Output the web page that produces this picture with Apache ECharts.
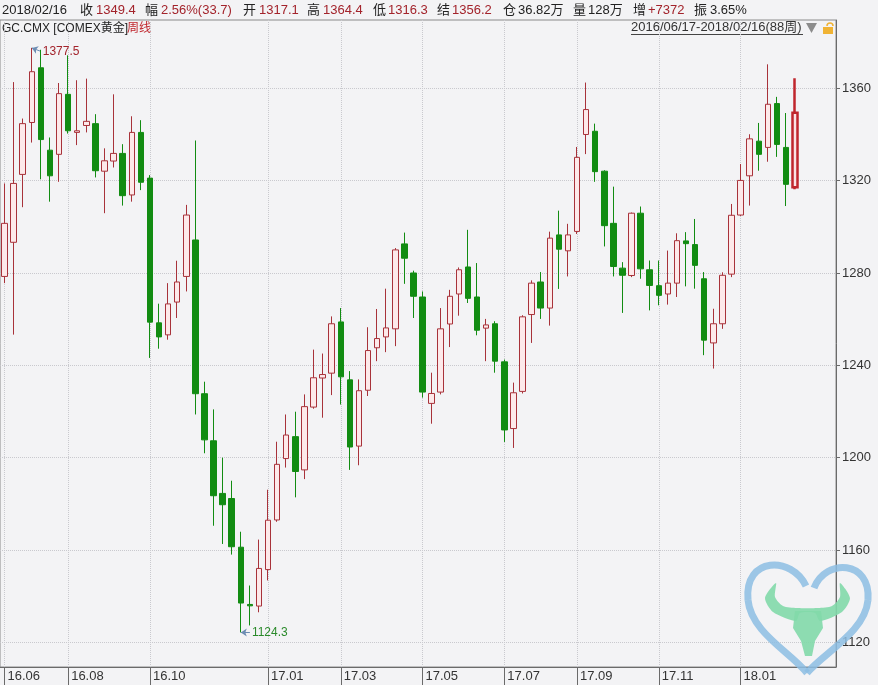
<!DOCTYPE html>
<html><head><meta charset="utf-8">
<script src="https://cdn.jsdelivr.net/npm/echarts@6/dist/echarts.min.js"></script>
<style>html,body{margin:0;padding:0;background:#f3f3f5}#c{width:878px;height:685px}</style>
</head><body><div id="c"></div>
<script>
// ---- data (weekly) ----
const weeks = [
'2016/06/17','2016/06/24','2016/07/01','2016/07/08','2016/07/15','2016/07/22','2016/07/29','2016/08/05','2016/08/12','2016/08/19',
'2016/08/26','2016/09/02','2016/09/09','2016/09/16','2016/09/23','2016/09/30','2016/10/07','2016/10/14','2016/10/21','2016/10/28',
'2016/11/04','2016/11/11','2016/11/18','2016/11/25','2016/12/02','2016/12/09','2016/12/16','2016/12/23','2016/12/30','2017/01/06',
'2017/01/13','2017/01/20','2017/01/27','2017/02/03','2017/02/10','2017/02/17','2017/02/24','2017/03/03','2017/03/10','2017/03/17',
'2017/03/24','2017/03/31','2017/04/07','2017/04/14','2017/04/21','2017/04/28','2017/05/05','2017/05/12','2017/05/19','2017/05/26',
'2017/06/02','2017/06/09','2017/06/16','2017/06/23','2017/06/30','2017/07/07','2017/07/14','2017/07/21','2017/07/28','2017/08/04',
'2017/08/11','2017/08/18','2017/08/25','2017/09/01','2017/09/08','2017/09/15','2017/09/22','2017/09/29','2017/10/06','2017/10/13',
'2017/10/20','2017/10/27','2017/11/03','2017/11/10','2017/11/17','2017/11/24','2017/12/01','2017/12/08','2017/12/15','2017/12/22',
'2017/12/29','2018/01/05','2018/01/12','2018/01/19','2018/01/26','2018/02/02','2018/02/09','2018/02/16'];
const emptySlots = ['2018/02/23','2018/03/02','2018/03/09','2018/03/16'];
const open = [
1278.5,1293.3,1322.7,1345.2,1368.9,1333.2,1331.4,1357.4,1340.9,1343.9,
1344.7,1324.1,1328.5,1331.8,1313.8,1340.9,1321.1,1258.4,1253.2,1267.4,
1278.5,1294.3,1227.7,1207.3,1184.5,1182.3,1161.2,1136.4,1135.7,1151.5,
1173.0,1199.6,1209.1,1194.7,1221.9,1234.5,1236.6,1258.8,1233.7,1205.0,
1229.2,1247.6,1252.3,1255.8,1292.6,1280.0,1269.6,1223.5,1228.4,1257.9,
1270.9,1282.6,1269.6,1256.1,1258.0,1241.5,1212.6,1228.7,1262.0,1276.1,
1264.8,1296.5,1289.6,1298.0,1340.0,1341.4,1324.1,1301.5,1282.1,1278.9,
1305.9,1281.4,1274.5,1270.9,1275.6,1293.9,1292.3,1277.5,1249.7,1258.0,
1279.5,1305.1,1322.1,1337.1,1334.4,1353.4,1334.4,1317.1];
const close = [
1301.5,1318.8,1344.7,1367.2,1337.8,1322.1,1357.7,1341.6,1341.6,1345.7,
1324.3,1328.6,1331.8,1313.5,1340.9,1319.3,1258.7,1252.3,1266.6,1276.1,
1305.1,1227.7,1207.7,1183.5,1179.6,1161.4,1137.0,1135.8,1152.0,1172.9,
1197.1,1209.8,1194.0,1222.1,1234.6,1236.0,1258.0,1235.0,1204.6,1229.0,
1246.4,1251.6,1256.2,1290.0,1286.4,1269.9,1228.4,1227.8,1255.8,1269.9,
1281.4,1269.0,1255.2,1257.5,1241.8,1212.0,1228.1,1261.0,1275.6,1264.8,
1295.1,1290.3,1296.5,1330.1,1350.8,1323.9,1300.5,1282.8,1279.0,1305.9,
1281.8,1274.6,1270.3,1275.6,1294.0,1292.7,1283.3,1250.9,1258.0,1279.0,
1305.0,1320.1,1338.1,1331.4,1353.1,1335.7,1318.4,1349.4];
const low = [
1275.6,1253.3,1308.5,1336.5,1320.6,1310.9,1319.5,1340.4,1335.4,1340.9,
1321.4,1305.9,1325.7,1309.2,1310.9,1315.9,1243.2,1247.2,1251.1,1260.5,
1272.0,1218.7,1201.9,1170.5,1162.6,1158.0,1124.3,1127.3,1133.0,1146.8,
1172.2,1195.7,1182.8,1190.7,1221.2,1217.3,1227.1,1223.0,1194.7,1196.7,
1226.7,1241.8,1245.7,1248.3,1275.3,1260.5,1226.0,1214.7,1227.4,1247.9,
1261.5,1267.0,1253.0,1241.8,1236.8,1206.8,1204.2,1227.8,1249.7,1260.1,
1257.2,1273.1,1278.5,1296.9,1331.5,1319.5,1291.5,1278.5,1262.7,1278.2,
1277.5,1263.8,1266.0,1266.3,1269.6,1274.2,1273.2,1244.4,1238.6,1255.8,
1278.2,1304.7,1309.2,1324.3,1328.2,1330.3,1309.0,1316.3];
const high = [
1318.8,1362.7,1346.9,1377.5,1376.7,1338.7,1362.3,1374.3,1363.5,1364.2,
1348.8,1334.0,1357.4,1335.8,1347.9,1346.2,1322.4,1266.7,1275.6,1285.3,
1309.5,1337.4,1232.9,1220.9,1200.0,1190.0,1167.9,1144.6,1164.5,1186.1,
1206.9,1218.7,1219.9,1227.4,1246.8,1245.1,1261.2,1264.8,1237.5,1233.9,
1256.5,1264.4,1273.2,1290.8,1297.5,1281.0,1272.0,1236.8,1264.8,1272.7,
1282.4,1298.7,1284.3,1260.1,1259.1,1242.5,1232.5,1261.7,1276.8,1280.4,
1297.9,1307.0,1301.3,1334.6,1362.5,1344.7,1324.5,1317.4,1284.7,1306.2,
1308.8,1285.4,1285.4,1289.7,1297.2,1297.7,1303.4,1280.4,1264.5,1280.3,
1309.9,1327.2,1340.1,1345.0,1370.4,1356.3,1349.3,1364.4];
const tickDates  = ['2016/06/17','2016/08/05','2016/10/07','2017/01/06','2017/03/03','2017/05/05','2017/07/07','2017/09/01','2017/11/03','2018/01/05'];
const tickLabels = ['16.06','16.08','16.10','17.01','17.03','17.05','17.07','17.09','17.11','18.01'];
const yTicks = [1120,1160,1200,1240,1280,1320,1360];

// ---- build ----
const FONT = "'Liberation Sans','Noto Sans CJK SC',sans-serif";
const UP_FILL = '#fde9ea', UP_LINE = '#a8323a', DN = '#128c12';
const cats = weeks.concat(emptySlots);
const tickIdx = tickDates.map(d => cats.indexOf(d));
const last = weeks.length - 1;
const kData = weeks.map((w, i) => {
  const v = [open[i], close[i], low[i], high[i]];
  if (i === last) return {value: v, itemStyle: {borderWidth: 2.5, borderColor: '#c0262d', color: '#fbe3e5'}};
  return v;
});
let iMax = 0, iMin = 0;
high.forEach((h, i) => { if (h > high[iMax]) iMax = i; });
low.forEach((l, i) => { if (l < low[iMin]) iMin = i; });

const gridLines = yTicks.map(v => ({yAxis: v})).concat(tickDates.map(d => ({xAxis: d})));

const hdr = [
 [2,'2018/02/16',0],[80,'收',0],[96,'1349.4',1],[145,'幅',0],[161,'2.56%(33.7)',1],[243,'开',0],[259,'1317.1',1],
 [307,'高',0],[323,'1364.4',1],[373,'低',0],[388,'1316.3',1],[437,'结',0],[452,'1356.2',1],[503,'仓',0],
 [518,'36.82万',0],[573,'量',0],[588,'128万',0],[633,'增',0],[648,'+7372',1],[694,'振',0],[710,'3.65%',0]];
const graphics = hdr.map(h => ({type:'text', x:h[0], y:10, style:{text:h[1], fill:h[2]?'#a3232b':'#222', font:'13px '+FONT, verticalAlign:'middle'}}));
const heartStyle = {stroke:'#8cbde3', lineWidth:7, fill:null, opacity:0.85};
graphics.push(
 {type:'text', x:2, y:29, style:{text:'GC.CMX [COMEX黄金]', fill:'#222', font:'12px '+FONT, verticalAlign:'middle'}},
 {type:'text', x:127, y:29, style:{text:'周线', fill:'#c0262d', font:'12px '+FONT, verticalAlign:'middle'}},
 {type:'text', x:631, y:27, style:{text:'2016/06/17-2018/02/16(88周)', fill:'#333', font:'13px '+FONT, verticalAlign:'middle'}},
 {type:'line', shape:{x1:631,y1:34.5,x2:803,y2:34.5}, style:{stroke:'#444', lineWidth:1}},
 {type:'polygon', shape:{points:[[806,23],[817,23],[811.5,33]]}, style:{fill:'#8c8c8c'}},
 {type:'rect', shape:{x:823,y:27,width:10,height:7}, style:{fill:'#f0b334'}},
 {type:'arc', shape:{cx:830,cy:26,r:3,startAngle:Math.PI,endAngle:2*Math.PI}, style:{stroke:'#f0b334', lineWidth:1.5, fill:null}},
 {type:'bezierCurve', z:100, shape:{x1:806,y1:586,cpx1:792,cpy1:556,cpx2:744,cpy2:556,x2:748,y2:600}, style:heartStyle},
 {type:'bezierCurve', z:100, shape:{x1:748,y1:600,cpx1:751,cpy1:632,cpx2:790,cpy2:652,x2:807,y2:673}, style:heartStyle},
 {type:'bezierCurve', z:100, shape:{x1:807,y1:673,cpx1:825,cpy1:652,cpx2:865,cpy2:632,x2:868,y2:600}, style:heartStyle},
 {type:'bezierCurve', z:100, shape:{x1:868,y1:600,cpx1:871,cpy1:560,cpx2:826,cpy2:558,x2:814,y2:588}, style:heartStyle},
 {type:'polygon', z:100, shape:{smooth:0.25, points:[[776,583],[765,598],[773,612],[796,621],[800,613],[815,613],[820,621],[842,612],[850,598],[840,583],[840,597],[832,606],[818,608],[797,608],[783,606],[775,597]]},
   style:{fill:'#82d9aa', opacity:0.9}},
 {type:'polygon', z:100, shape:{points:[[795,611],[821,611],[823,628],[815,641],[812,656],[805,656],[801,641],[793,628]]},
   style:{fill:'#82d9aa', opacity:0.9}}
);

const chart = echarts.init(document.getElementById('c'));
chart.setOption({
  backgroundColor: '#f3f3f5',
  animation: false,
  grid: {left: 0, top: 20, width: 836, bottom: 18, show: true, borderColor: '#8a8a8a', borderWidth: 1, backgroundColor: '#f3f3f5'},
  xAxis: {
    type: 'category', data: cats, boundaryGap: true,
    axisLine: {show: true, lineStyle: {color: '#6a6a6a'}},
    axisTick: {show: true, alignWithLabel: true, length: 18, interval: i => tickIdx.includes(i), lineStyle: {color: '#6a6a6a'}},
    axisLabel: {interval: i => tickIdx.includes(i), formatter: (v, i) => tickLabels[tickDates.indexOf(v)] || '',
      align: 'left', padding: [0,0,0,3], margin: 3, color: '#333', fontSize: 13, fontFamily: FONT},
    splitLine: {show: false}
  },
  yAxis: {
    type: 'value', position: 'right', min: 1109.3, max: 1389.6, scale: true,
    axisLine: {show: true, lineStyle: {color: '#6a6a6a'}},
    axisTick: {show: true, length: 4, customValues: yTicks, lineStyle: {color: '#6a6a6a'}},
    axisLabel: {customValues: yTicks, formatter: v => String(v), margin: 6, color: '#333', fontSize: 13, fontFamily: FONT},
    splitLine: {show: false}
  },
  graphic: graphics,
  series: [
    {type: 'line', data: [], silent: true, z: 1,
      markLine: {silent: true, symbol: 'none', label: {show: false}, animation: false,
        lineStyle: {color: '#c9c9ce', type: 'dotted', width: 1}, data: gridLines}},
    {type: 'candlestick', z: 10, data: kData, barWidth: 6,
      itemStyle: {color: UP_FILL, borderColor: UP_LINE, color0: DN, borderColor0: DN, borderWidth: 1},
      markLine: {silent: true, animation: false, symbol: ['arrow', 'none'], symbolSize: 6,
        data: [
          [{coord: [weeks[iMax], high[iMax]], lineStyle: {color: '#6d8db3', width: 1, type: 'solid'},
            label: {show: true, position: 'end', formatter: String(high[iMax]), color: '#a3232b', fontSize: 12, fontFamily: FONT, distance: 2}},
           {coord: [weeks[iMax + 1], high[iMax] - 1.5]}],
          [{coord: [weeks[iMin], low[iMin]], lineStyle: {color: '#6d8db3', width: 1, type: 'solid'},
            label: {show: true, position: 'end', formatter: String(low[iMin]), color: '#2a8a2a', fontSize: 12, fontFamily: FONT, distance: 2}},
           {coord: [weeks[iMin + 1], low[iMin]]}]
        ]}}
  ]
});
</script></body></html>
